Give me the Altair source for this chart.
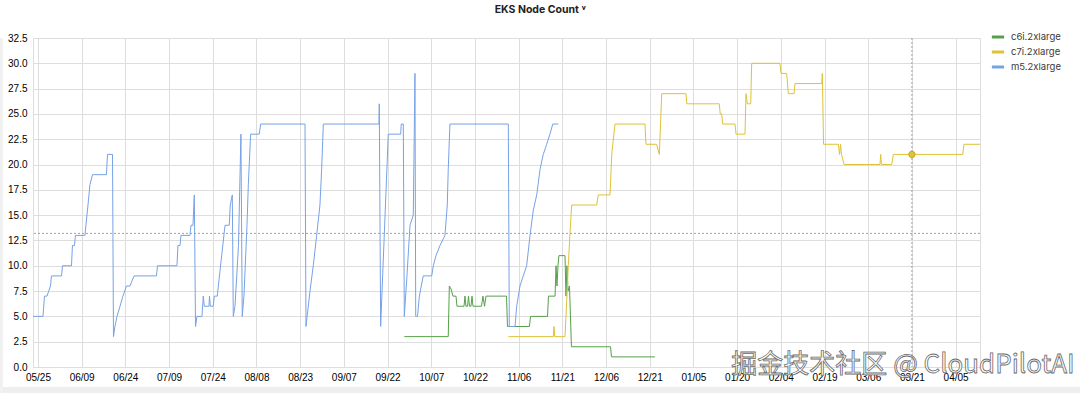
import altair as alt
import pandas as pd

# ---------------- data ----------------
title_text = "EKS Node Count ˅"
series_names = ["c6i.2xlarge", "c7i.2xlarge", "m5.2xlarge"]
series_colors = ["#56a04b", "#dfc236", "#77a2e6"]

c6i_time = [
    "2024-09-27T18:00", "2024-10-12T20:00", "2024-10-13T05:00", "2024-10-13T19:00",
    "2024-10-14T11:00", "2024-10-15T12:00", "2024-10-15T20:00", "2024-10-18T06:00",
    "2024-10-18T14:00", "2024-10-18T22:00", "2024-10-19T11:00", "2024-10-19T19:00",
    "2024-10-20T03:00", "2024-10-20T15:00", "2024-10-21T00:00", "2024-10-21T08:00",
    "2024-10-24T06:00", "2024-10-24T18:00", "2024-10-25T07:00", "2024-10-25T19:00",
    "2024-11-01T20:00", "2024-11-02T04:00", "2024-11-09T17:00", "2024-11-10T02:00",
    "2024-11-15T22:00", "2024-11-16T06:00", "2024-11-18T12:00", "2024-11-18T20:00",
    "2024-11-19T04:00", "2024-11-19T12:00", "2024-11-19T20:00", "2024-11-21T22:00",
    "2024-11-22T06:00", "2024-11-22T14:00", "2024-11-22T23:00", "2024-11-23T11:00",
    "2024-11-24T03:00", "2024-12-07T13:00", "2024-12-07T21:00", "2024-12-22T19:00",
]
c6i_value = [
    3, 3, 8, 7.7,
    7, 7, 6, 6,
    7, 6, 6, 7,
    6, 6, 7, 6,
    6, 7, 6, 7,
    7, 4, 4, 5,
    5, 7, 7, 10,
    8, 10, 11, 11,
    7, 10, 7.5, 8,
    2, 2, 1, 1,
]

c7i_time = [
    "2024-11-02T11:00", "2024-11-17T22:00", "2024-11-18T03:00", "2024-11-18T10:00",
    "2024-11-21T22:00", "2024-11-22T14:00", "2024-11-23T01:00", "2024-11-23T15:00",
    "2024-11-24T05:00", "2024-12-02T19:00", "2024-12-03T08:00", "2024-12-07T09:00",
    "2024-12-07T23:00", "2024-12-09T02:00", "2024-12-19T09:00", "2024-12-19T17:00",
    "2024-12-23T09:00", "2024-12-24T07:00", "2024-12-25T03:00", "2025-01-02T11:00",
    "2025-01-02T17:00", "2025-01-13T21:00", "2025-01-14T05:00", "2025-01-14T17:00",
    "2025-01-15T01:00", "2025-01-19T07:00", "2025-01-19T15:00", "2025-01-22T17:00",
    "2025-01-23T01:00", "2025-01-23T12:00", "2025-01-24T16:00", "2025-01-25T00:00",
    "2025-02-03T17:00", "2025-02-04T02:00", "2025-02-06T00:00", "2025-02-06T14:00",
    "2025-02-08T13:00", "2025-02-08T21:00", "2025-02-18T01:00", "2025-02-18T06:00",
    "2025-02-18T16:00", "2025-02-23T18:00", "2025-02-24T04:00", "2025-02-24T12:00",
    "2025-02-24T20:00", "2025-02-25T17:00", "2025-03-10T01:00", "2025-03-10T07:00",
    "2025-03-10T13:00", "2025-03-14T02:00", "2025-03-14T15:00", "2025-04-07T11:00",
    "2025-04-07T21:00", "2025-04-13T09:00",
]
c7i_value = [
    3, 3, 4, 3,
    3, 7, 10, 13.2,
    16, 16, 17, 17,
    21, 24, 24, 22,
    22, 21, 27, 27,
    26, 26, 25, 25,
    24, 24, 23, 23,
    27, 26, 26, 30,
    30, 29, 29, 27,
    27, 28, 28, 29,
    22, 22, 21, 22,
    21, 20, 20, 21,
    20, 20, 21, 21,
    22, 22,
]

m5_time = [
    "2024-05-23T07:00", "2024-05-26T17:00", "2024-05-27T06:00", "2024-05-28T02:00",
    "2024-05-29T07:00", "2024-05-29T15:00", "2024-06-02T02:00", "2024-06-02T10:00",
    "2024-06-05T12:00", "2024-06-05T20:00", "2024-06-06T13:00", "2024-06-06T21:00",
    "2024-06-10T03:00", "2024-06-10T11:00", "2024-06-11T04:00", "2024-06-11T20:00",
    "2024-06-12T17:00", "2024-06-17T12:00", "2024-06-17T21:00", "2024-06-19T14:00",
    "2024-06-19T22:00", "2024-06-20T10:00", "2024-06-21T03:00", "2024-06-22T04:00",
    "2024-06-23T04:00", "2024-06-24T09:00", "2024-06-25T14:00", "2024-06-26T23:00",
    "2024-07-04T16:00", "2024-07-05T01:00", "2024-07-11T17:00", "2024-07-12T01:00",
    "2024-07-12T18:00", "2024-07-13T02:00", "2024-07-16T04:00", "2024-07-16T13:00",
    "2024-07-17T05:00", "2024-07-17T16:00", "2024-07-18T02:00", "2024-07-18T14:00",
    "2024-07-20T07:00", "2024-07-20T18:00", "2024-07-21T02:00", "2024-07-22T17:00",
    "2024-07-22T21:00", "2024-07-23T04:00", "2024-07-24T04:00", "2024-07-24T13:00",
    "2024-07-25T13:00", "2024-07-28T05:00", "2024-07-29T16:00", "2024-07-30T00:00",
    "2024-07-30T17:00", "2024-07-31T01:00", "2024-07-31T15:00", "2024-08-01T08:00",
    "2024-08-01T20:00", "2024-08-02T16:00", "2024-08-03T03:00", "2024-08-03T17:00",
    "2024-08-04T18:00", "2024-08-05T05:00", "2024-08-06T00:00", "2024-08-08T23:00",
    "2024-08-09T11:00", "2024-08-24T16:00", "2024-08-25T00:00", "2024-08-26T09:00",
    "2024-08-27T12:00", "2024-08-28T16:00", "2024-08-29T19:00", "2024-08-30T09:00",
    "2024-08-30T23:00", "2024-09-19T01:00", "2024-09-19T04:00", "2024-09-19T15:00",
    "2024-09-22T06:00", "2024-09-26T12:00", "2024-09-26T17:00", "2024-09-27T10:00",
    "2024-09-27T18:00", "2024-09-28T16:00", "2024-09-29T17:00", "2024-09-30T20:00",
    "2024-10-01T10:00", "2024-10-01T16:00", "2024-10-02T07:00", "2024-10-02T22:00",
    "2024-10-04T06:00", "2024-10-07T04:00", "2024-10-07T17:00", "2024-10-08T15:00",
    "2024-10-10T00:00", "2024-10-11T17:00", "2024-10-12T12:00", "2024-10-12T20:00",
    "2024-10-13T10:00", "2024-11-02T11:00", "2024-11-02T19:00", "2024-11-04T18:00",
    "2024-11-05T08:00", "2024-11-06T11:00", "2024-11-07T14:00", "2024-11-08T18:00",
    "2024-11-09T22:00", "2024-11-11T01:00", "2024-11-12T05:00", "2024-11-13T08:00",
    "2024-11-14T11:00", "2024-11-15T15:00", "2024-11-16T18:00", "2024-11-17T17:00",
    "2024-11-19T15:00",
]
m5_value = [
    5, 5, 7, 7,
    8, 9, 9, 10,
    10, 12, 12, 13,
    13, 14, 16, 18,
    19, 19, 21, 21,
    3, 4, 5, 6,
    7, 8, 8, 9,
    9, 10, 10, 12,
    12, 13, 13, 14,
    14, 17, 4, 5,
    5, 7, 6, 6,
    7, 6, 6, 7,
    7, 14, 14, 16,
    17, 5, 6, 9.5,
    12, 23, 5, 7,
    14, 18, 23, 23,
    24, 24, 4, 7.5,
    10, 13, 16, 19.5,
    24, 24, 26, 4,
    23, 23, 24, 24,
    5, 9, 14, 15,
    29, 5, 5, 7,
    9, 9, 10, 11,
    12, 13, 16, 19.5,
    24, 24, 4, 4,
    6, 8, 9, 10,
    13, 15.5, 17, 19.5,
    21, 22, 23, 24,
    24,
]

x_tick_dates = [
    "2024-05-25", "2024-06-09", "2024-06-24", "2024-07-09", "2024-07-24",
    "2024-08-08", "2024-08-23", "2024-09-07", "2024-09-22", "2024-10-07",
    "2024-10-22", "2024-11-06", "2024-11-21", "2024-12-06", "2024-12-21",
    "2025-01-05", "2025-01-20", "2025-02-04", "2025-02-19", "2025-03-06",
    "2025-03-21", "2025-04-05",
]
y_ticks = [0.0, 2.5, 5.0, 7.5, 10.0, 12.5, 15.0, 17.5, 20.0, 22.5, 25.0, 27.5, 30.0, 32.5]
x_domain = ["2024-05-23T07:00", "2025-04-13T09:00"]
y_domain = [0, 32.5]

crosshair_time = ["2025-03-21T00:00"]
crosshair_value = [13.2]
hover_time = ["2025-03-21T00:00"]
hover_value = [21]
watermark_text = ["掘金技术社区 @ CloudPilotAI"]

FONT = "Inter"


def to_dt(s):
    t = pd.Timestamp(s)
    return alt.DateTime(year=t.year, month=t.month, date=t.day,
                        hours=t.hour, minutes=t.minute)


rows = []
for name, times, values in zip(series_names,
                               [c6i_time, c7i_time, m5_time],
                               [c6i_value, c7i_value, m5_value]):
    for i, (t, v) in enumerate(zip(times, values)):
        rows.append({"series": name, "time": t, "value": v, "i": i})
df = pd.DataFrame(rows)

x_scale = alt.Scale(domain=[to_dt(x_domain[0]), to_dt(x_domain[1])])
y_scale = alt.Scale(domain=y_domain, nice=False, zero=False)

x_axis = alt.Axis(values=[to_dt(d) for d in x_tick_dates], format="%m/%d",
                  tickCount=len(x_tick_dates) + 5,
                  labelFlush=False, labelOverlap=False, labelPadding=5,
                  grid=True, domain=False, ticks=False)
y_axis = alt.Axis(values=y_ticks, format=".1f", labelPadding=6,
                  tickCount=len(y_ticks) + 5,
                  labelOverlap=False, grid=True, domain=False, ticks=False)

one_row = pd.DataFrame({"k": [0]})

# light grey panel edges of the screenshot (bottom band, left shadow)
edge_bottom = alt.Chart(one_row).mark_rect(color="#eeeeee").encode(
    x=alt.value(-33), x2=alt.value(1047), y=alt.value(349), y2=alt.value(355)
)
edge_left = alt.Chart(one_row).mark_rect(color="#f1f1f1").encode(
    x=alt.value(-33), x2=alt.value(-30), y=alt.value(0), y2=alt.value(355)
)

lines = alt.Chart(df).mark_line(strokeWidth=1, clip=True).encode(
    x=alt.X("time:T", scale=x_scale, axis=x_axis, title=None),
    y=alt.Y("value:Q", scale=y_scale, axis=y_axis, title=None),
    color=alt.Color(
        "series:N",
        scale=alt.Scale(domain=series_names, range=series_colors),
        legend=alt.Legend(
            orient="none", legendX=957, legendY=-9, title=None,
            symbolType="stroke", symbolStrokeWidth=3, symbolSize=150,
            labelFont=FONT, labelFontSize=9.5, labelColor="#3a3a3a",
            labelOffset=5, rowPadding=1,
        ),
    ),
    order=alt.Order("i:Q"),
)

hrule = alt.Chart(pd.DataFrame({"value": crosshair_value})).mark_rule(
    color="#a0a0a0", strokeWidth=1, strokeDash=[2, 2]
).encode(y="value:Q")

vrule = alt.Chart(pd.DataFrame({"time": crosshair_time})).mark_rule(
    color="#a0a0a0", strokeWidth=1, strokeDash=[2, 2]
).encode(x="time:T")

hover = alt.Chart(pd.DataFrame({"time": hover_time, "value": hover_value})).mark_point(
    filled=True, size=40, color="#dfc236", stroke="#c9a91c", strokeWidth=1, opacity=1
).encode(x="time:T", y="value:Q")

mark_wm = alt.Chart(pd.DataFrame({"t": watermark_text})).mark_text(
    font="Noto Sans CJK SC", fontSize=26, fill="#ffffff", stroke="#6a6a6a",
    strokeWidth=0.8, align="center", baseline="middle"
).encode(text="t:N", x=alt.value(870), y=alt.value(327))

chart = alt.layer(edge_bottom, edge_left, lines, hrule, vrule, hover, mark_wm).properties(
    width=947,
    height=329,
    autosize=alt.AutoSizeParams(type="none"),
    padding={"left": 33, "top": 38, "right": 100, "bottom": 26},
    title=alt.TitleParams(
        text=title_text, anchor="middle", dx=34, offset=14,
        font=FONT, fontSize=10.5, fontWeight="bold", color="#222222",
    ),
).configure_view(strokeWidth=0).configure_axis(
    labelFont=FONT, labelFontSize=9.5, labelColor="#3a3a3a",
    gridColor="#ededed", gridWidth=1,
).configure(background="#ffffff")

chart.save("out.html", embed_options={"renderer": "svg", "actions": False})
